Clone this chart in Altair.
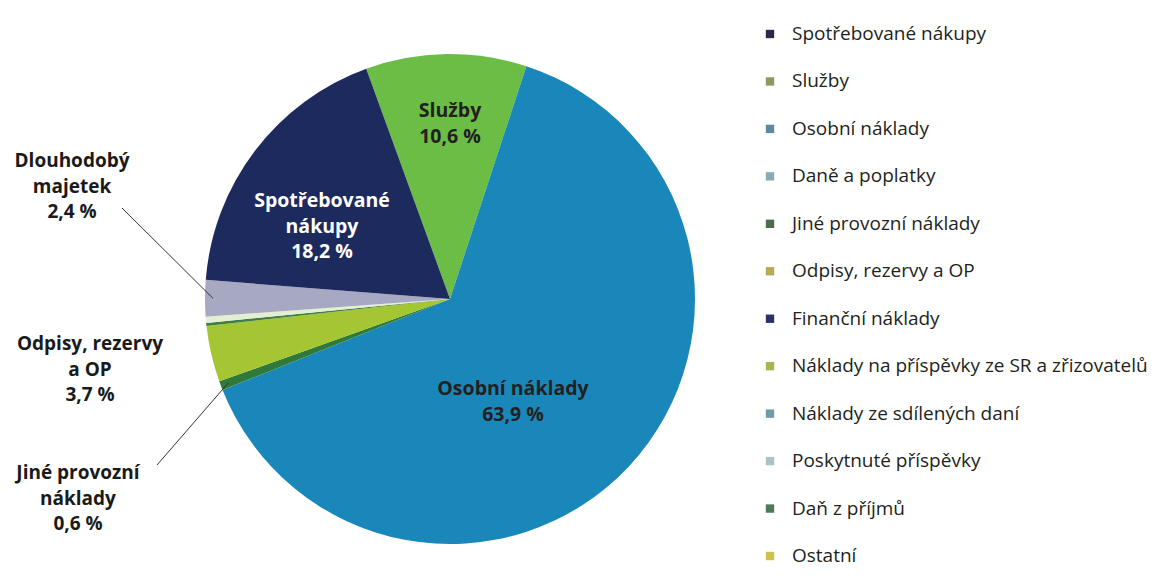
import math
import altair as alt
import pandas as pd

# ---- data ----
slice_names = ["Služby", "Osobní náklady", "Jiné provozní náklady", "Odpisy, rezervy a OP",
               "Daň z příjmů", "Ostatní", "Dlouhodobý majetek", "Spotřebované nákupy"]
slice_values = [10.6, 63.9, 0.6, 3.7, 0.2, 0.4, 2.4, 18.2]
slice_colors = ["#6cbd45", "#1a87bb", "#2f7a3a", "#a3c632", "#3f7f45", "#e4efd2", "#a7a9c3", "#1c2a5e"]

legend_names = ["Spotřebované nákupy", "Služby", "Osobní náklady", "Daně a poplatky",
                "Jiné provozní náklady", "Odpisy, rezervy a OP", "Finanční náklady",
                "Náklady na příspěvky ze SR a zřizovatelů", "Náklady ze sdílených daní",
                "Poskytnuté příspěvky", "Daň z příjmů", "Ostatní"]
legend_colors = ["#2b2a4a", "#8c9a5a", "#5a8c9e", "#8aaab6", "#4d6b4d", "#b5aa55",
                 "#2e3168", "#aab44f", "#6f9ca8", "#a9c3c9", "#4f7a55", "#cfc24a"]

inside_labels = ["Služby\n10,6 %", "Spotřebované\nnákupy\n18,2 %", "Osobní náklady\n63,9 %"]
outside_labels = ["Dlouhodobý\nmajetek\n2,4 %", "Odpisy, rezervy\na OP\n3,7 %", "Jiné provozní\nnáklady\n0,6 %"]

# ---- layout ----
W, H = 1139, 563
CX, CY, R = 442, 291, 245
START = math.radians(-20)
FONT = "Open Sans"

pie_df = pd.DataFrame({"name": slice_names, "value": slice_values, "order": range(len(slice_names))})

xs = alt.Scale(domain=[0, W], nice=False, zero=False)
ys = alt.Scale(domain=[0, H], nice=False, zero=False, reverse=True)

pie = alt.Chart(pie_df).mark_arc(outerRadius=R).encode(
    theta=alt.Theta("value:Q", stack=True,
                    scale=alt.Scale(range=[START, START + 2 * math.pi])),
    color=alt.Color("name:N", scale=alt.Scale(domain=slice_names, range=slice_colors), legend=None),
    order=alt.Order("order:Q"),
    x=alt.value(CX), y=alt.value(CY),
)

# y = position of the first line of each label
inside_df = pd.DataFrame({
    "label": inside_labels,
    "x": [442, 314, 505], "y": [103, 193, 381],
    "tc": ["#231f20", "#ffffff", "#231f20"],
})
inside = alt.Chart(inside_df).mark_text(
    font=FONT, fontSize=19.5, fontWeight="bold", lineBreak="\n", lineHeight=25.5,
    baseline="middle", align="center").encode(
    x=alt.X("x:Q", scale=xs, axis=None), y=alt.Y("y:Q", scale=ys, axis=None),
    text="label:N", color=alt.Color("tc:N", scale=None),
)

outside_df = pd.DataFrame({"label": outside_labels, "x": [64, 82, 70], "y": [153, 336, 465]})
outside = alt.Chart(outside_df).mark_text(font=FONT, fontSize=19, fontWeight="bold",
                                           lineBreak="\n", lineHeight=25.5, baseline="middle",
                                           align="center", color="#1a1a1a").encode(
    x=alt.X("x:Q", scale=xs, axis=None), y=alt.Y("y:Q", scale=ys, axis=None),
    text="label:N",
)

# leader lines: from label to the slice edge at the slice's mid-angle
total = sum(slice_values)
cum = 0.0
mid = {}
for n, v in zip(slice_names, slice_values):
    mid[n] = START + (cum + v / 2) / total * 2 * math.pi
    cum += v
r_edge = R - 8
leader_targets = ["Dlouhodobý majetek", "Jiné provozní náklady"]
leader_df = pd.DataFrame({
    "x": [114, 149], "y": [200, 457],
    "x2": [CX + r_edge * math.sin(mid[n]) for n in leader_targets],
    "y2": [CY - r_edge * math.cos(mid[n]) for n in leader_targets],
})
leaders = alt.Chart(leader_df).mark_rule(color="#333333", strokeWidth=1).encode(
    x=alt.X("x:Q", scale=xs, axis=None), y=alt.Y("y:Q", scale=ys, axis=None),
    x2="x2:Q", y2="y2:Q",
)

legend_df = pd.DataFrame({"name": legend_names, "color": legend_colors})
ly = alt.Y("name:N", sort=legend_names, axis=None,
           scale=alt.Scale(type="point", domain=legend_names, range=[26, 548], padding=0))
leg_sq = alt.Chart(legend_df).mark_square(size=70, opacity=1).encode(
    x=alt.value(762), y=ly, color=alt.Color("color:N", scale=None),
)
leg_tx = alt.Chart(legend_df).mark_text(font=FONT, fontSize=19, align="left", baseline="middle",
                                         color="#231f20").encode(
    x=alt.value(784), y=ly, text="name:N",
)

chart = alt.layer(pie, leaders, inside, outside, leg_sq, leg_tx).resolve_scale(
    y="independent", x="independent", color="independent"
).properties(
    width=W, height=H, padding=0, autosize=alt.AutoSizeParams(type="none"),
    background="#ffffff",
).configure_view(stroke=None)

chart.save("out.html", embed_options={"renderer": "svg", "actions": False})
